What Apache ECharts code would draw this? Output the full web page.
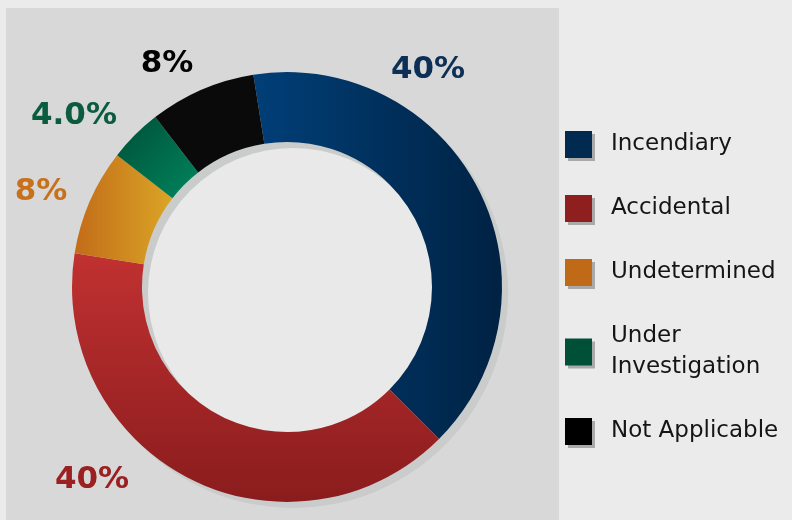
<!DOCTYPE html>
<html>
<head>
<meta charset="utf-8">
<title>Fire causes</title>
<script src="https://cdn.jsdelivr.net/npm/echarts@6/dist/echarts.min.js"></script>
<style>
	html, body { margin: 0; padding: 0; background: #ebebeb; }
	#chart { width: 792px; height: 520px; }
</style>
</head>
<body>
<div id="chart"></div>
<script>
// data
var categories = ['Incendiary', 'Accidental', 'Undetermined', 'Under Investigation', 'Not Applicable'];
var values = [40, 40, 8, 4, 8];
var labelTexts = ['40%', '40%', '8%', '4.0%', '8%'];

// colours
var legendColors = ['#002a50', '#8f1e1f', '#c06a18', '#004f37', '#000000'];
var labelColors = ['#0e2f55', '#9a2022', '#c8711c', '#0b5c3f', '#000000'];
var sliceColors = [
	new echarts.graphic.LinearGradient(0, 0, 1, 0, [{offset: 0, color: '#013f78'}, {offset: 1, color: '#002243'}]),
	new echarts.graphic.LinearGradient(0, 0, 0, 1, [{offset: 0, color: '#c13131'}, {offset: 1, color: '#8a1c1d'}]),
	new echarts.graphic.LinearGradient(0, 0, 1, 0, [{offset: 0, color: '#c26c19'}, {offset: 1, color: '#dba526'}]),
	new echarts.graphic.LinearGradient(0, 0, 1, 1, [{offset: 0, color: '#004f37'}, {offset: 1, color: '#00855e'}]),
	'#0a0a0a'
];
// label centres (px)
var labelPos = [[428, 70], [92, 480], [41, 192], [74, 116], [167, 64]];

var FONT = 'DejaVu Sans';

function renderChart() {
	var myChart = echarts.init(document.getElementById('chart'), null, {renderer: 'canvas'});

	var pieData = [];
	for (var i = 0; i < categories.length; i++) {
		pieData.push({
			name: categories[i],
			value: values[i],
			itemStyle: { color: sliceColors[i] },
			label: { color: labelColors[i], formatter: labelTexts[i] }
		});
	}
	var legendData = [];
	for (var j = 0; j < categories.length; j++) {
		legendData.push({ name: categories[j], itemStyle: { color: legendColors[j] } });
	}

	var option = {
		backgroundColor: '#ebebeb',
		animation: false,
		graphic: [{
			type: 'rect',
			z: -10,
			shape: { x: 6, y: 8, width: 553, height: 520 },
			style: { fill: '#d8d8d8' }
		}],
		legend: {
			orient: 'vertical',
			left: 560,
			top: 124,
			itemWidth: 27,
			itemHeight: 27,
			itemGap: 33,
			icon: 'rect',
			selectedMode: false,
			data: legendData,
			itemStyle: {
				shadowColor: 'rgba(0,0,0,0.28)',
				shadowOffsetX: 3,
				shadowOffsetY: 3,
				shadowBlur: 0
			},
			formatter: function(name) {
				return name === 'Under Investigation' ? 'Under\nInvestigation' : name;
			},
			textStyle: {
				fontFamily: FONT,
				fontSize: 23,
				color: '#151515',
				lineHeight: 31,
				padding: [0, 0, 0, 14]
			}
		},
		series: [{
			// light centre disc
			type: 'pie',
			silent: true,
			center: [287, 287],
			radius: [0, 145],
			label: { show: false },
			labelLine: { show: false },
			itemStyle: { color: '#e9e9e9' },
			data: [{ value: 1, name: '_centre' }],
			z: 1
		}, {
			// drop shadow ring
			type: 'pie',
			silent: true,
			center: [293, 293],
			radius: [145, 215],
			label: { show: false },
			labelLine: { show: false },
			itemStyle: { color: '#c9cccb' },
			data: [{ value: 1, name: '_shadow' }],
			z: 2
		}, {
			name: 'Fire cause',
			type: 'pie',
			center: [287, 287],
			radius: [145, 215],
			startAngle: 99,
			clockwise: true,
			avoidLabelOverlap: false,
			emphasis: { scale: false },
			label: {
				show: true,
				position: 'outside',
				fontFamily: FONT,
				fontWeight: 'bold',
				fontSize: 31
			},
			labelLine: { show: false },
			labelLayout: function(params) {
				var p = labelPos[params.dataIndex];
				return { x: p[0], y: p[1], align: 'center', verticalAlign: 'middle' };
			},
			data: pieData,
			z: 3
		}]
	};
	myChart.setOption(option);
	window.onresize = function() {
		myChart.resize();
	}
}

renderChart();
</script>
</body>
</html>
